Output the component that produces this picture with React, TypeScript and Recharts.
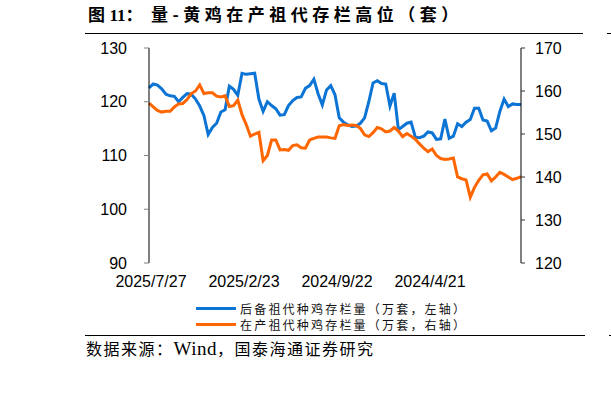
import { LineChart, Line, XAxis, YAxis, Legend } from 'recharts';

// weekly dates, newest first (x axis runs backwards in time)
const dates: string[] = Array.from({ length: 89 }, (_, i) => {
  const d = new Date(2025, 6, 27 - 7 * i);
  return `${d.getFullYear()}/${d.getMonth() + 1}/${d.getDate()}`;
});

// 后备祖代种鸡存栏量（万套，左轴）
const reserveStock = [
  122.6, 123.3, 123.1, 122.4, 121.4, 121.1, 121.0, 120.0, 120.8, 121.5,
  121.4, 120.5, 119.2, 117.4, 113.9, 115.2, 116.0, 118.1, 118.5, 122.9,
  122.3, 121.2, 125.3, 125.1, 125.2, 125.3, 120.5, 118.2, 120.0, 119.3,
  118.7, 117.5, 117.6, 119.3, 120.2, 120.8, 120.9, 122.5, 123.0, 124.2,
  121.5, 119.4, 122.2, 123.0, 121.3, 117.0, 116.2, 115.7, 115.4, 115.5,
  116.0, 117.0, 120.0, 123.5, 123.9, 123.4, 123.3, 119.2, 121.6, 114.8,
  115.4, 116.0, 116.2, 113.4, 113.3, 113.6, 114.4, 114.2, 113.0, 113.1,
  116.8, 113.2, 113.6, 115.9, 115.4, 116.2, 116.7, 118.8, 118.8, 116.6,
  116.4, 114.6, 115.1, 118.2, 120.5, 119.1, 119.6, 119.5, 119.5,
];

// 在产祖代种鸡存栏量（万套，右轴）
const layingStock = [
  157.2, 156.3, 155.5, 155.1, 155.3, 155.3, 156.3, 157.0, 157.1, 158.0,
  159.4, 160.0, 161.4, 159.4, 159.6, 159.6, 158.8, 158.6, 158.9, 156.4,
  156.6, 157.9, 154.5, 152.2, 149.5, 150.0, 150.4, 143.8, 145.0, 148.6,
  148.6, 146.3, 146.4, 146.2, 147.3, 147.5, 146.8, 146.7, 148.6, 149.0,
  149.3, 149.3, 149.3, 149.1, 149.0, 151.9, 152.2, 152.0, 152.1, 152.0,
  151.3, 149.8, 149.4, 150.3, 151.5, 151.2, 150.5, 150.7, 151.5, 150.7,
  149.4, 150.1, 149.5, 148.8, 147.7, 146.7, 145.9, 146.5, 145.0, 144.3,
  144.1, 144.2, 144.4, 140.0, 139.6, 139.3, 135.3, 137.6, 139.2, 140.5,
  140.7, 139.1, 140.0, 141.1, 140.6, 140.0, 139.4, 139.7, 140.1,
];

const leftTicks = [90, 100, 110, 120, 130];
const rightTicks = [120, 130, 140, 150, 160, 170];
const labelTicks = [dates[0], dates[22], dates[44], dates[66]];
const markTicks = [dates[0], dates[30], dates[60]];

const data = dates.map((date, i) => ({
  date,
  reserve: reserveStock[i],
  laying: layingStock[i],
}));

const BLUE = '#0B74D4';
const ORANGE = '#FF6600';
const CJK = '"Noto Sans CJK SC", sans-serif';
const tickFont = { fontSize: 16, fill: '#000', fontFamily: '"Liberation Sans", Arial, sans-serif' };

interface LegendEntry {
  value?: string;
  color?: string;
}

function StackedLegend({ payload }: { payload?: LegendEntry[] }) {
  if (!payload?.length) return null;
  return (
    <div style={{ fontFamily: CJK, fontSize: 12, color: '#111', letterSpacing: 2.2 }}>
      {payload.map((entry, i) => (
        <div key={i} style={{ display: 'flex', alignItems: 'center', height: 15.5 }}>
          <span style={{ width: 40, height: 3, background: entry.color, marginRight: 4 }} />
          <span style={{ lineHeight: '15px' }}>{entry.value}</span>
        </div>
      ))}
    </div>
  );
}

export default function App() {
  return (
    <div
      style={{
        position: 'absolute',
        left: 0,
        top: 0,
        width: 611,
        height: 394,
        background: '#fff',
        overflow: 'hidden',
      }}
    >
      <div
        style={{
          position: 'absolute',
          left: 88,
          top: 4,
          fontFamily: CJK,
          fontWeight: 700,
          fontSize: 17,
          lineHeight: '20px',
          letterSpacing: 4.5,
          color: '#000',
          whiteSpace: 'nowrap',
        }}
      >
        图<span style={{ fontFamily: '"Liberation Serif", serif', letterSpacing: 0 }}>11</span>：
        <span style={{ marginLeft: 4 }}>量-黄鸡在产祖代存栏高位（套）</span>
      </div>
      <div style={{ position: 'absolute', left: 85, top: 33, width: 498, height: 1, background: '#000' }} />
      <div style={{ position: 'absolute', left: 85, top: 335, width: 500, height: 1, background: '#000' }} />
      {/* edge of the neighbouring figure */}
      <div style={{ position: 'absolute', left: 607, top: 33, width: 10, height: 1, background: '#000' }} />
      <div style={{ position: 'absolute', left: 609, top: 335, width: 10, height: 1, background: '#000' }} />

      <div style={{ position: 'absolute', left: 0, top: 0 }}>
        <LineChart width={611} height={394} data={data} margin={{ top: 48, right: 0, bottom: 101, left: 0 }}>
          <XAxis
            xAxisId="marks"
            dataKey="date"
            ticks={markTicks}
            interval={0}
            tick={false}
            mirror
            tickSize={4}
            height={0}
            stroke="#8a8a8a"
            axisLine={{ stroke: '#8a8a8a' }}
            tickLine={{ stroke: '#8a8a8a' }}
          />
          <XAxis
            xAxisId="labels"
            dataKey="date"
            ticks={labelTicks}
            interval={0}
            height={30}
            axisLine={false}
            tickLine={false}
            tickSize={0}
            tickMargin={13}
            tick={tickFont}
            dx={2}
          />
          <YAxis
            yAxisId="left"
            domain={[90, 130]}
            ticks={leftTicks}
            width={149}
            tickSize={5}
            tickMargin={17}
            axisLine={{ stroke: '#000' }}
            tickLine={{ stroke: '#7f7f7f' }}
            tick={tickFont}
          />
          <YAxis
            yAxisId="right"
            orientation="right"
            domain={[120, 170]}
            ticks={rightTicks}
            width={90}
            tickSize={4}
            tickMargin={10}
            axisLine={{ stroke: '#000' }}
            tickLine={{ stroke: '#333' }}
            tick={tickFont}
          />
          <Line
            xAxisId="labels"
            yAxisId="left"
            type="linear"
            dataKey="reserve"
            name="后备祖代种鸡存栏量（万套，左轴）"
            stroke={BLUE}
            strokeWidth={3}
            dot={false}
            isAnimationActive={false}
          />
          <Line
            xAxisId="marks"
            yAxisId="right"
            type="linear"
            dataKey="laying"
            name="在产祖代种鸡存栏量（万套，右轴）"
            stroke={ORANGE}
            strokeWidth={3}
            dot={false}
            isAnimationActive={false}
          />
          <Legend
            layout="vertical"
            align="center"
            verticalAlign="middle"
            content={<StackedLegend />}
            wrapperStyle={{ left: 196, top: 301, width: 290 }}
          />
        </LineChart>
      </div>

      <div
        style={{
          position: 'absolute',
          left: 86,
          top: 339,
          fontFamily: '"Liberation Serif", "Noto Sans CJK SC", serif',
          fontSize: 16,
          lineHeight: '20px',
          letterSpacing: 1.5,
          color: '#000',
          whiteSpace: 'nowrap',
        }}
      >
        数据来源：<span style={{ fontSize: 19, letterSpacing: 0.5 }}>Wind</span>，国泰海通证券研究
      </div>
    </div>
  );
}
